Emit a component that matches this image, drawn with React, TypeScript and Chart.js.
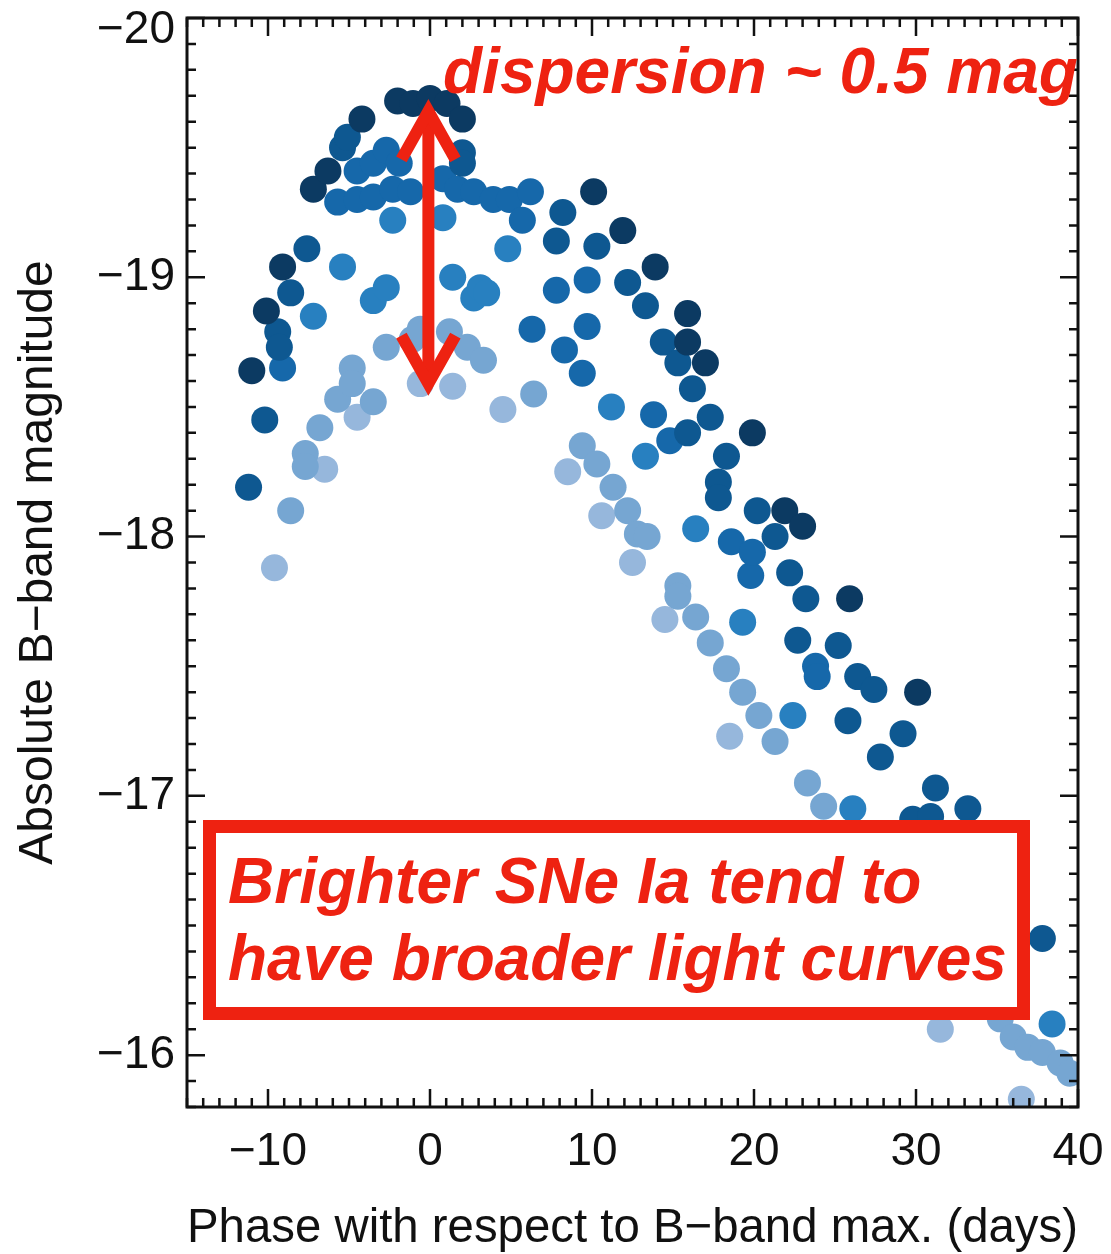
import React, { useEffect, useRef } from "react";
import { Chart, registerables } from "chart.js";

Chart.register(...registerables);

const FONT = "'Liberation Sans', Arial, Helvetica, sans-serif";
const RED = "#ee2211";

const X_TICKS = [-10, 0, 10, 20, 30, 40];
const Y_TICKS = [-20, -19, -18, -17, -16];
const X_TITLE = "Phase with respect to B\u2212band max. (days)";
const Y_TITLE = "Absolute B\u2212band magnitude";

// Light-curve samples, [phase (days), absolute B magnitude], grouped by shade.
const SN_NAVY: [number, number][] = [
  [-11.0, -18.64], [-10.1, -18.87], [-9.1, -19.04], [-7.2, -19.34], [-6.3, -19.41],
  [-4.2, -19.61], [-2.0, -19.68], [-1.05, -19.67], [0.0, -19.69], [1.05, -19.67],
  [2.0, -19.61], [10.1, -19.33], [11.9, -19.18], [13.9, -19.04], [15.9, -18.86],
  [15.9, -18.75], [17.0, -18.67], [19.9, -18.4], [21.9, -18.1], [23.0, -18.04],
  [25.9, -17.76], [30.1, -17.4],
];

const SN_DEEP: [number, number][] = [
  [-11.2, -18.19], [-10.2, -18.45], [-9.4, -18.79], [-9.3, -18.73], [-8.6, -18.94],
  [-7.6, -19.11], [-5.4, -19.5], [-5.1, -19.54], [2.0, -19.48], [2.0, -19.44],
  [7.8, -19.14], [8.2, -19.25], [10.3, -19.12], [12.2, -18.98], [13.3, -18.89],
  [14.4, -18.75], [15.3, -18.67], [15.9, -18.4], [16.2, -18.57], [17.3, -18.46],
  [17.8, -18.21], [17.8, -18.15], [18.3, -18.31], [20.2, -18.1], [21.3, -18.0],
  [22.2, -17.86], [22.7, -17.6], [23.2, -17.76], [25.2, -17.58], [25.8, -17.29],
  [26.4, -17.46], [27.4, -17.41], [27.8, -17.15], [29.2, -17.24], [29.8, -16.91],
  [30.9, -16.92], [31.2, -17.03], [33.2, -16.95], [37.8, -16.45],
];

const SN_MID: [number, number][] = [
  [-9.1, -18.65], [-5.7, -19.29], [-4.5, -19.41], [-4.5, -19.3], [-3.5, -19.44],
  [-3.5, -19.31], [-2.7, -19.49], [-2.3, -19.34], [-1.9, -19.44], [-1.2, -19.33],
  [0.8, -19.38], [1.7, -19.34], [2.7, -19.33], [3.9, -19.3], [4.9, -19.3],
  [5.7, -19.22], [6.2, -19.33], [6.3, -18.8], [7.8, -18.95], [8.3, -18.72],
  [9.4, -18.63], [9.7, -18.99], [9.7, -18.81], [13.8, -18.47], [14.8, -18.37],
  [18.6, -17.98], [19.8, -17.85], [19.9, -17.94], [23.8, -17.5], [23.9, -17.46],
];

const SN_BRIGHT: [number, number][] = [
  [-7.2, -18.85], [-5.4, -19.04], [-3.5, -18.91], [-2.7, -18.96], [-2.3, -19.22],
  [0.8, -19.23], [1.4, -19.0], [2.7, -18.92], [3.1, -18.96], [3.5, -18.94],
  [4.8, -19.11], [11.2, -18.5], [13.3, -18.31], [16.4, -18.03], [19.3, -17.67],
  [22.4, -17.31], [26.1, -16.95], [38.4, -16.12],
];

const SN_LIGHT: [number, number][] = [
  [-8.6, -18.1], [-7.7, -18.32], [-7.7, -18.27], [-6.8, -18.42], [-5.7, -18.53],
  [-4.8, -18.65], [-4.8, -18.59], [-3.5, -18.52], [-2.7, -18.73], [-1.1, -18.76],
  [-0.6, -18.8], [1.2, -18.79], [2.3, -18.73], [3.3, -18.68], [6.4, -18.55],
  [9.4, -18.35], [10.3, -18.28], [11.3, -18.19], [12.2, -18.1], [12.8, -18.01],
  [13.4, -18.0], [15.3, -17.81], [15.3, -17.77], [16.4, -17.69], [17.3, -17.59],
  [18.3, -17.49], [19.3, -17.4], [20.3, -17.31], [21.3, -17.21], [23.3, -17.05],
  [24.3, -16.96], [35.2, -16.14], [36.0, -16.07], [36.9, -16.03], [37.8, -16.01],
  [38.9, -15.97], [39.5, -15.93],
];

const SN_PALE: [number, number][] = [
  [-9.6, -17.88], [-6.5, -18.26], [-4.5, -18.46], [-0.6, -18.59], [1.4, -18.58],
  [4.5, -18.49], [8.5, -18.25], [10.6, -18.08], [12.5, -17.9], [14.5, -17.68],
  [18.5, -17.23], [31.5, -16.1], [36.5, -15.83],
];

// Drawn in reverse order, so the first entry ends up on top.
const SERIES = [
  { label: "navy", color: "#0c3a62", points: SN_NAVY },
  { label: "deep", color: "#0e5891", points: SN_DEEP },
  { label: "mid", color: "#1668aa", points: SN_MID },
  { label: "bright", color: "#2880c0", points: SN_BRIGHT },
  { label: "light", color: "#76a6d2", points: SN_LIGHT },
  { label: "pale", color: "#96b7dc", points: SN_PALE },
];

// Dispersion arrow between the peak magnitudes, in data units.
const ARROW_PHASE = -0.1;
const ARROW_TOP = -19.64;
const ARROW_BOTTOM = -18.59;

const DISPERSION_TEXT = "dispersion ~ 0.5 mag";
const CALLOUT_LINES = ["Brighter SNe Ia tend to", "have broader light curves"];

const fmt = (v: number | string) => {
  const n = Number(v);
  return n < 0 ? "\u2212" + Math.abs(n) : String(n);
};

// The top label sits just below the frame corner, so it is pushed down one half line.
const fmtY = (v: number | string) => {
  const s = fmt(v);
  return Number(v) === Y_TICKS[0] ? ["", s] : s;
};

const decorPlugin = {
  id: "decor",
  afterDatasetsDraw(chart: any) {
    const { ctx, chartArea: a, scales } = chart;
    const xs = scales.x;
    const ys = scales.y;
    ctx.save();

    // inward tick marks on all four sides
    ctx.strokeStyle = "#111";
    ctx.lineWidth = 2.5;
    ctx.beginPath();
    for (let d = -15; d <= 40; d++) {
      const px = xs.getPixelForValue(d);
      const len = d % 10 === 0 ? 18 : 9;
      ctx.moveTo(px, a.bottom);
      ctx.lineTo(px, a.bottom - len);
      ctx.moveTo(px, a.top);
      ctx.lineTo(px, a.top + len);
    }
    for (let k = 0; k <= 42; k++) {
      const v = -20 + k * 0.1;
      const py = ys.getPixelForValue(v);
      const len = k % 10 === 0 ? 18 : 9;
      ctx.moveTo(a.left, py);
      ctx.lineTo(a.left + len, py);
      ctx.moveTo(a.right, py);
      ctx.lineTo(a.right - len, py);
    }
    ctx.stroke();

    // plot frame
    ctx.lineWidth = 3;
    ctx.strokeRect(a.left, a.top, a.right - a.left, a.bottom - a.top);

    // double-headed arrow
    const ax = xs.getPixelForValue(ARROW_PHASE);
    const aTop = ys.getPixelForValue(ARROW_TOP);
    const aBot = ys.getPixelForValue(ARROW_BOTTOM);
    ctx.strokeStyle = RED;
    ctx.lineWidth = 12;
    ctx.lineJoin = "miter";
    ctx.lineCap = "butt";
    ctx.beginPath();
    ctx.moveTo(ax, aTop);
    ctx.lineTo(ax, aBot);
    ctx.stroke();
    ctx.beginPath();
    ctx.moveTo(ax - 27, aTop + 48);
    ctx.lineTo(ax, aTop);
    ctx.lineTo(ax + 27, aTop + 48);
    ctx.moveTo(ax - 27, aBot - 48);
    ctx.lineTo(ax, aBot);
    ctx.lineTo(ax + 27, aBot - 48);
    ctx.stroke();

    // dispersion label
    ctx.fillStyle = RED;
    ctx.textAlign = "left";
    ctx.textBaseline = "alphabetic";
    ctx.font = `italic bold 64px ${FONT}`;
    ctx.fillText(DISPERSION_TEXT, 443, 93);

    // callout box
    const bx = 203, by = 820, bw = 827, bh = 200, bt = 13;
    ctx.fillStyle = "#ffffff";
    ctx.fillRect(bx, by, bw, bh);
    ctx.strokeStyle = RED;
    ctx.lineWidth = bt;
    ctx.strokeRect(bx + bt / 2, by + bt / 2, bw - bt, bh - bt);
    ctx.fillStyle = RED;
    ctx.font = `italic bold 64px ${FONT}`;
    ctx.fillText(CALLOUT_LINES[0], 228, 903);
    ctx.fillText(CALLOUT_LINES[1], 228, 980);

    ctx.restore();
  },
};

export default function App() {
  const ref = useRef<HTMLCanvasElement>(null);

  useEffect(() => {
    const canvas = ref.current;
    if (!canvas) return;
    const chart = new Chart(canvas, {
      type: "scatter",
      data: {
        datasets: SERIES.map((s) => ({
          label: s.label,
          data: s.points.map(([x, y]) => ({ x, y })),
          backgroundColor: s.color,
          borderWidth: 0,
          pointRadius: 13.5,
          pointHoverRadius: 13.5,
          clip: 0,
        })),
      },
      options: {
        responsive: false,
        animation: false,
        devicePixelRatio: 1,
        events: [],
        layout: { padding: { top: 18, right: 33, left: 0, bottom: 0 } },
        plugins: {
          legend: { display: false },
          tooltip: { enabled: false },
        },
        scales: {
          x: {
            type: "linear",
            min: -15,
            max: 40,
            grid: { display: false, drawTicks: false },
            border: { display: false },
            afterBuildTicks: (s: any) => {
              s.ticks = X_TICKS.map((value) => ({ value }));
            },
            afterFit: (s: any) => {
              s.height = 147;
              s.paddingLeft = 0;
              s.paddingRight = 0;
            },
            ticks: {
              font: { family: FONT, size: 46 },
              color: "#111",
              padding: 18,
              maxRotation: 0,
              autoSkip: false,
              callback: fmt,
            },
            title: {
              display: true,
              text: X_TITLE,
              color: "#111",
              font: { family: FONT, size: 48.5, lineHeight: 1 },
              padding: { top: 0, bottom: 1 },
            },
          },
          y: {
            type: "linear",
            reverse: true,
            min: -20,
            max: -15.8,
            grid: { display: false, drawTicks: false },
            border: { display: false },
            afterBuildTicks: (s: any) => {
              s.ticks = Y_TICKS.map((value) => ({ value }));
            },
            afterFit: (s: any) => {
              s.width = 187;
              s.paddingTop = 0;
              s.paddingBottom = 0;
            },
            ticks: {
              font: { family: FONT, size: 46, lineHeight: 0.55 },
              color: "#111",
              padding: 12,
              autoSkip: false,
              callback: fmtY,
            },
            title: {
              display: true,
              text: Y_TITLE,
              color: "#111",
              font: { family: FONT, size: 48, lineHeight: 1 },
              padding: { top: 15, bottom: 0 },
            },
          },
        },
      },
      plugins: [decorPlugin],
    } as any);
    return () => chart.destroy();
  }, []);

  return (
    <div style={{ position: "absolute", left: 0, top: 0, width: 1111, height: 1254, background: "#fff" }}>
      <canvas ref={ref} width={1111} height={1254} style={{ display: "block", width: 1111, height: 1254 }} />
    </div>
  );
}
